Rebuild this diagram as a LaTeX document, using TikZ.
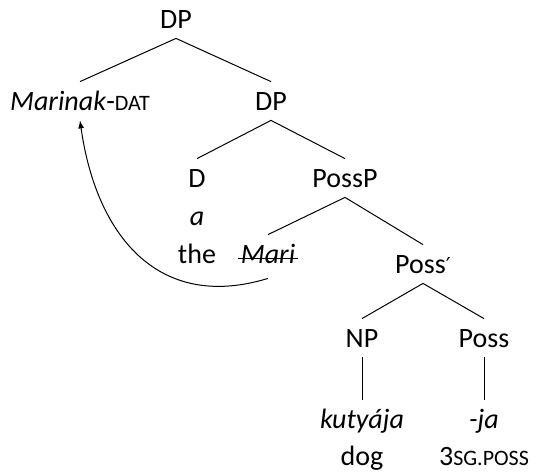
\documentclass[tikz,border=0pt]{standalone}
\usepackage{fontspec}
\setmainfont{Carlito}
\newfontfamily\primefont{DejaVu Sans}
\usepackage{tikz}
\usetikzlibrary{arrows.meta}

\newcommand{\smc}[1]{{\fontsize{11}{13}\selectfont #1}}
\newcommand{\xbar}{{\primefont\fontsize{11}{13}\selectfont ′}}

\begin{document}
\begin{tikzpicture}[
    x=0.5pt, y=-0.5pt,
    >={Latex[length=4pt, width=3pt]},
    word/.style={anchor=base, inner xsep=1pt, inner ysep=3.5pt, text height=10.5pt, text depth=1.5pt, font=\fontsize{14}{16}\selectfont},
    branch/.style={draw, line width=0.5pt},
    move/.style={draw, ->, line width=0.5pt}
]
\useasboundingbox (0,0) rectangle (541,472);

% Nodes :
\node[word] (dp)      at (176, 28)  {DP};
\node[word] (marinak) at (80, 110)  {\textit{Marinak}-\smc{DAT}};
\node[word] (dpb)     at (271, 110) {DP};
\node[word] (d)       at (197, 187) {D};
\node[word] (possp)   at (345, 187) {PossP};
\node[word] (a)       at (197, 225) {\textit{a}};
\node[word] (the)     at (197, 263) {the};
\node[word] (mari)    at (268, 263) {\textit{Mari}};
\node[word] (possb)   at (423, 273) {Poss\xbar};
\node[word] (np)      at (362, 347) {NP};
\node[word] (poss)    at (484, 347) {Poss};
\node[word] (kutya)   at (362, 428) {\textit{kutyája}};
\node[word] (ja)      at (484, 428) {\textit{-ja}};
\node[word] (dog)     at (362, 465) {dog};
\node[word] (sgposs)  at (484, 465) {3\smc{SG.POSS}};

% Edges :
\draw[branch] (dp.south) -- (marinak.north);
\draw[branch] (dp.south) -- (dpb.north);
\draw[branch] (dpb.south) -- (d.north);
\draw[branch] (dpb.south) -- (possp.north);
\draw[branch] (possp.south) -- (mari.north);
\draw[branch] (possp.south) -- (possb.north);
\draw[branch] (possb.south) -- (np.north);
\draw[branch] (possb.south) -- (poss.north);
\draw[branch] (np.south) -- (kutya.north);
\draw[branch] (poss.south) -- (ja.north);

% struck-out copy :
\draw[branch] ([yshift=2.5pt]mari.base west) -- ([yshift=2.5pt]mari.base east);

% Movement :
\draw[move] ([yshift=-2.5pt]mari.south) to[out=197, in=-82, looseness=1.2] (marinak.south);

\end{tikzpicture}
\end{document}
